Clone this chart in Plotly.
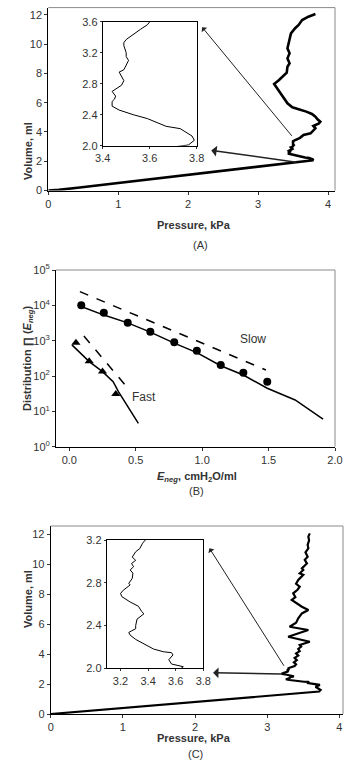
import plotly.graph_objects as go

# ---------------- Panel A data (pressure kPa, volume ml) ----------------
a_pressure = [0, 0.15, 0.45, 1.0, 2.0, 3.0, 3.5, 3.765, 3.79, 3.78, 3.73, 3.67, 3.59, 3.53, 3.47,
              3.44, 3.44, 3.45, 3.455, 3.44, 3.46, 3.48, 3.49, 3.48, 3.47, 3.49, 3.50, 3.51,
              3.50, 3.50, 3.49, 3.49, 3.50, 3.53, 3.56, 3.59, 3.60, 3.65, 3.75, 3.82, 3.79,
              3.87, 3.89, 3.85, 3.82, 3.77, 3.69, 3.58, 3.49, 3.42, 3.37, 3.32, 3.25, 3.23,
              3.30, 3.34, 3.41, 3.42, 3.45, 3.42, 3.45, 3.42, 3.44, 3.45, 3.47, 3.53, 3.58,
              3.63, 3.72, 3.82]
a_volume = [0, 0.04, 0.2, 0.5, 1.06, 1.62, 1.9, 2.01, 2.07, 2.125, 2.22, 2.25, 2.35, 2.40, 2.46,
            2.51, 2.57, 2.60, 2.64, 2.70, 2.74, 2.78, 2.84, 2.89, 2.95, 2.98, 3.05, 3.10,
            3.15, 3.20, 3.29, 3.33, 3.37, 3.44, 3.50, 3.56, 3.60, 3.79, 3.91, 4.25, 4.41,
            4.59, 4.70, 4.87, 5.05, 5.23, 5.39, 5.55, 5.69, 5.96, 6.30, 6.69, 7.14, 7.28,
            7.55, 7.74, 8.05, 8.46, 8.69, 9.03, 9.38, 9.72, 10.06, 10.40, 10.74, 11.09, 11.31,
            11.65, 11.88, 12.06]

# ---------------- Panel B data ----------------
slow_x = [0.09, 0.26, 0.44, 0.61, 0.79, 0.96, 1.14, 1.31, 1.49]
slow_y = [10000, 6200, 3200, 1800, 900, 520, 205, 124, 69]
fast_x = [0.05, 0.15, 0.25, 0.35]
fast_y = [880, 260, 135, 31]
slow_fit_x = [0.08, 0.26, 0.44, 0.61, 0.79, 0.96, 1.14, 1.31, 1.49, 1.70, 1.91]
slow_fit_y = [9600, 5300, 3200, 1750, 850, 460, 195, 107, 45, 21, 6]
slow_dash_x = [0.08, 1.48]
slow_dash_y = [24500, 148]
fast_fit_x = [0.02, 0.15, 0.25, 0.33, 0.37, 0.52]
fast_fit_y = [760, 255, 133, 69, 36, 4.6]
fast_dash_x = [0.11, 0.42]
fast_dash_y = [1350, 56]
b_ticks = [1, 10, 100, 1000, 10000, 100000]
b_ticktext = ["10<sup>0</sup>", "10<sup>1</sup>", "10<sup>2</sup>", "10<sup>3</sup>",
              "10<sup>4</sup>", "10<sup>5</sup>"]

# ---------------- Panel C data ----------------
c_pressure = [0, 0.3, 1.0, 2.0, 3.0, 3.72, 3.74, 3.67, 3.73, 3.64, 3.655, 3.57, 3.55, 3.58, 3.57,
              3.51, 3.44, 3.37, 3.31, 3.27, 3.26, 3.28, 3.31, 3.31, 3.32, 3.32, 3.37, 3.354,
              3.33, 3.27, 3.21, 3.20, 3.22, 3.25, 3.27, 3.26, 3.285, 3.29, 3.27, 3.295, 3.28,
              3.31, 3.285, 3.31, 3.34, 3.36, 3.38, 3.40, 3.37, 3.41, 3.38, 3.43, 3.40, 3.45,
              3.43, 3.47, 3.45, 3.59, 3.29, 3.57, 3.31, 3.40, 3.43, 3.48, 3.57, 3.48, 3.34,
              3.39, 3.36, 3.42, 3.45, 3.40, 3.43, 3.50, 3.45, 3.50, 3.48, 3.55, 3.52, 3.56,
              3.53, 3.57, 3.56, 3.58, 3.57, 3.59]
c_volume = [0, 0.12, 0.4, 0.82, 1.22, 1.50, 1.60, 1.82, 1.94, 2.0, 2.015, 2.04, 2.08, 2.125, 2.146,
            2.155, 2.18, 2.23, 2.27, 2.31, 2.335, 2.35, 2.37, 2.40, 2.44, 2.46, 2.51, 2.53,
            2.58, 2.62, 2.67, 2.70, 2.73, 2.76, 2.78, 2.795, 2.84, 2.89, 2.92, 2.95, 2.98,
            3.01, 3.04, 3.09, 3.12, 3.17, 3.20, 3.32, 3.45, 3.60, 3.75, 3.90, 4.05, 4.20,
            4.35, 4.50, 4.61, 4.83, 5.16, 5.61, 5.83, 6.10, 6.39, 6.72, 6.95, 7.17, 7.62,
            7.80, 8.06, 8.30, 8.50, 8.70, 8.95, 9.30, 9.40, 9.62, 9.73, 10.06, 10.30, 10.50,
            10.80, 11.07, 11.30, 11.60, 11.85, 12.07]

FONT = "Liberation Sans, Arial, sans-serif"
TICKFONT = dict(family=FONT, size=11, color="#333333")
W, H = 344, 768


def px_x(p):
    return p / W


def px_y(p):
    return 1 - p / H


def axis(domain, rng, **kw):
    d = dict(domain=domain, range=rng, showgrid=False, zeroline=False, showline=True,
             linecolor="black", linewidth=1, ticks="outside", ticklen=3, tickcolor="#333333",
             tickfont=TICKFONT, mirror=False, automargin=False)
    d.update(kw)
    return d


fig = go.Figure()

# Panel A main + inset
fig.add_trace(go.Scatter(x=a_pressure, y=a_volume, mode="lines", line=dict(color="black", width=2.6),
                         xaxis="x", yaxis="y", showlegend=False))
fig.add_trace(go.Scatter(x=a_pressure, y=a_volume, mode="lines", line=dict(color="black", width=1),
                         xaxis="x2", yaxis="y2", showlegend=False))
# Panel B
fig.add_trace(go.Scatter(x=slow_dash_x, y=slow_dash_y, mode="lines",
                         line=dict(color="black", width=1.5, dash="dash"), xaxis="x3", yaxis="y3",
                         showlegend=False))
fig.add_trace(go.Scatter(x=fast_dash_x, y=fast_dash_y, mode="lines",
                         line=dict(color="black", width=1.5, dash="dash"), xaxis="x3", yaxis="y3",
                         showlegend=False))
fig.add_trace(go.Scatter(x=slow_fit_x, y=slow_fit_y, mode="lines", line=dict(color="black", width=1.5),
                         xaxis="x3", yaxis="y3", showlegend=False))
fig.add_trace(go.Scatter(x=fast_fit_x, y=fast_fit_y, mode="lines", line=dict(color="black", width=1.5),
                         xaxis="x3", yaxis="y3", showlegend=False))
fig.add_trace(go.Scatter(x=slow_x, y=slow_y, mode="markers", marker=dict(symbol="circle", size=8, color="black"),
                         xaxis="x3", yaxis="y3", showlegend=False))
fig.add_trace(go.Scatter(x=fast_x, y=fast_y, mode="markers",
                         marker=dict(symbol="triangle-up", size=8, color="black"),
                         xaxis="x3", yaxis="y3", showlegend=False))
# Panel C main + inset
fig.add_trace(go.Scatter(x=c_pressure, y=c_volume, mode="lines", line=dict(color="black", width=2.2),
                         xaxis="x4", yaxis="y4", showlegend=False))
fig.add_trace(go.Scatter(x=c_pressure, y=c_volume, mode="lines", line=dict(color="black", width=1),
                         xaxis="x5", yaxis="y5", showlegend=False))

layout = dict(
    width=W, height=H, margin=dict(l=0, r=0, t=0, b=0, autoexpand=False),
    paper_bgcolor="white", plot_bgcolor="white", showlegend=False,
    font=dict(family=FONT, size=11, color="#333333"),
    # A main
    xaxis=axis([px_x(48.3), px_x(335)], [0, 4.1], anchor="y", tickvals=[0, 1, 2, 3, 4]),
    yaxis=axis([px_y(190.5), px_y(7.6)], [0, 12.5], anchor="x", tickvals=[0, 2, 4, 6, 8, 10, 12]),
    # A inset
    xaxis2=axis([px_x(102.7), px_x(196.7)], [3.4, 3.8], anchor="y2", tickvals=[3.4, 3.6, 3.8],
                ticktext=["3.4", "3.6", "3.8"], mirror=True, ticklen=2),
    yaxis2=axis([px_y(145.7), px_y(21.7)], [2.0, 3.6], anchor="x2", tickvals=[2.0, 2.4, 2.8, 3.2, 3.6],
                ticktext=["2.0", "2.4", "2.8", "3.2", "3.6"], mirror=True, ticklen=2),
    # B
    xaxis3=axis([px_x(56), px_x(335)], [-0.1, 2.0], anchor="y3", tickvals=[0, 0.5, 1.0, 1.5, 2.0],
                ticktext=["0.0", "0.5", "1.0", "1.5", "2.0"]),
    yaxis3=axis([px_y(446.7), px_y(270)], [0, 5], type="log", anchor="x3", tickvals=b_ticks,
                ticktext=b_ticktext),
    # C main
    xaxis4=axis([px_x(50.7), px_x(343)], [0, 4.05], anchor="y4", tickvals=[0, 1, 2, 3, 4]),
    yaxis4=axis([px_y(714), px_y(526)], [0, 12.56], anchor="x4", tickvals=[0, 2, 4, 6, 8, 10, 12]),
    # C inset
    xaxis5=axis([px_x(106.7), px_x(203.3)], [3.1, 3.8], anchor="y5", tickvals=[3.2, 3.4, 3.6, 3.8],
                ticktext=["3.2", "3.4", "3.6", "3.8"], mirror=True, ticklen=2),
    yaxis5=axis([px_y(668.3), px_y(540)], [2.0, 3.2], anchor="x5", tickvals=[2.0, 2.4, 2.8, 3.2],
                ticktext=["2.0", "2.4", "2.8", "3.2"], mirror=True, ticklen=2),
)
fig.update_layout(**layout)

# grey top/right frame lines for main panels
shapes = []
for xr, yr in [("x", "y"), ("x3", "y3"), ("x4", "y4")]:
    shapes.append(dict(type="line", xref=f"{xr} domain", yref=f"{yr} domain", x0=0, x1=1, y0=1, y1=1,
                       line=dict(color="#8a8a8a", width=1)))
    shapes.append(dict(type="line", xref=f"{xr} domain", yref=f"{yr} domain", x0=1, x1=1, y0=0, y1=1,
                       line=dict(color="#8a8a8a", width=1)))
fig.update_layout(shapes=shapes)

ann = []
# arrows
arrow_style = dict(text="", showarrow=True, arrowhead=1, arrowsize=1.2, arrowwidth=1, arrowcolor="#222222")
ann.append(dict(x=2.2, y=11.16, ax=3.5, ay=3.63, xref="x", yref="y", axref="x", ayref="y", **arrow_style))
ann.append(dict(x=2.33, y=2.74, ax=3.57, ay=1.92, xref="x", yref="y", axref="x", ayref="y",
                **{**arrow_style, "arrowwidth": 1.5}))
ann.append(dict(x=2.2, y=11.07, ax=3.245, ay=3.12, xref="x4", yref="y4", axref="x4", ayref="y4", **arrow_style))
ann.append(dict(x=2.25, y=2.76, ax=3.22, ay=2.67, xref="x4", yref="y4", axref="x4", ayref="y4",
                **{**arrow_style, "arrowwidth": 1.5}))

bold = dict(family=FONT, size=11, color="#333333")
# Panel A texts
ann.append(dict(text="<b>Pressure, kPa</b>", x=px_x(194), y=px_y(217), xref="paper", yref="paper",
                showarrow=False, font=bold))
ann.append(dict(text="<b>Volume, ml</b>", x=px_x(20), y=px_y(120), xref="paper", yref="paper",
                showarrow=False, font=bold, textangle=-90))
ann.append(dict(text="(A)", x=px_x(200), y=px_y(237.3), xref="paper", yref="paper", showarrow=False,
                font=TICKFONT))
# Panel B texts
ann.append(dict(text="<b><i>E</i><sub><i>neg</i></sub>, cmH<sub>2</sub>O/ml</b>", x=px_x(196.7), y=px_y(477),
                xref="paper", yref="paper", showarrow=False, font=bold))
ann.append(dict(text="<b>Distribution \u220f (<i>E</i><sub><i>neg</i></sub>)</b>", x=px_x(19), y=px_y(358),
                xref="paper", yref="paper", showarrow=False, font=bold, textangle=-90))
ann.append(dict(text="(B)", x=px_x(196.7), y=px_y(491), xref="paper", yref="paper", showarrow=False,
                font=TICKFONT))
ann.append(dict(text="Slow", x=1.38, y=3.04, xref="x3", yref="y3", showarrow=False,
                font=dict(family=FONT, size=12, color="#333333")))
ann.append(dict(text="Fast", x=0.565, y=1.40, xref="x3", yref="y3", showarrow=False,
                font=dict(family=FONT, size=12, color="#333333")))
# Panel C texts
ann.append(dict(text="<b>Pressure, kPa</b>", x=px_x(194.3), y=px_y(745.5), xref="paper", yref="paper",
                showarrow=False, font=bold))
ann.append(dict(text="<b>Volume, ml</b>", x=px_x(20), y=px_y(630), xref="paper", yref="paper",
                showarrow=False, font=bold, textangle=-90))
ann.append(dict(text="(C)", x=px_x(195), y=px_y(762), xref="paper", yref="paper", showarrow=False,
                font=TICKFONT))
fig.update_layout(annotations=ann)

fig.write_html("out.html", config={"displayModeBar": False},
               post_script="document.body.style.margin='0';document.body.style.overflow='hidden';")
